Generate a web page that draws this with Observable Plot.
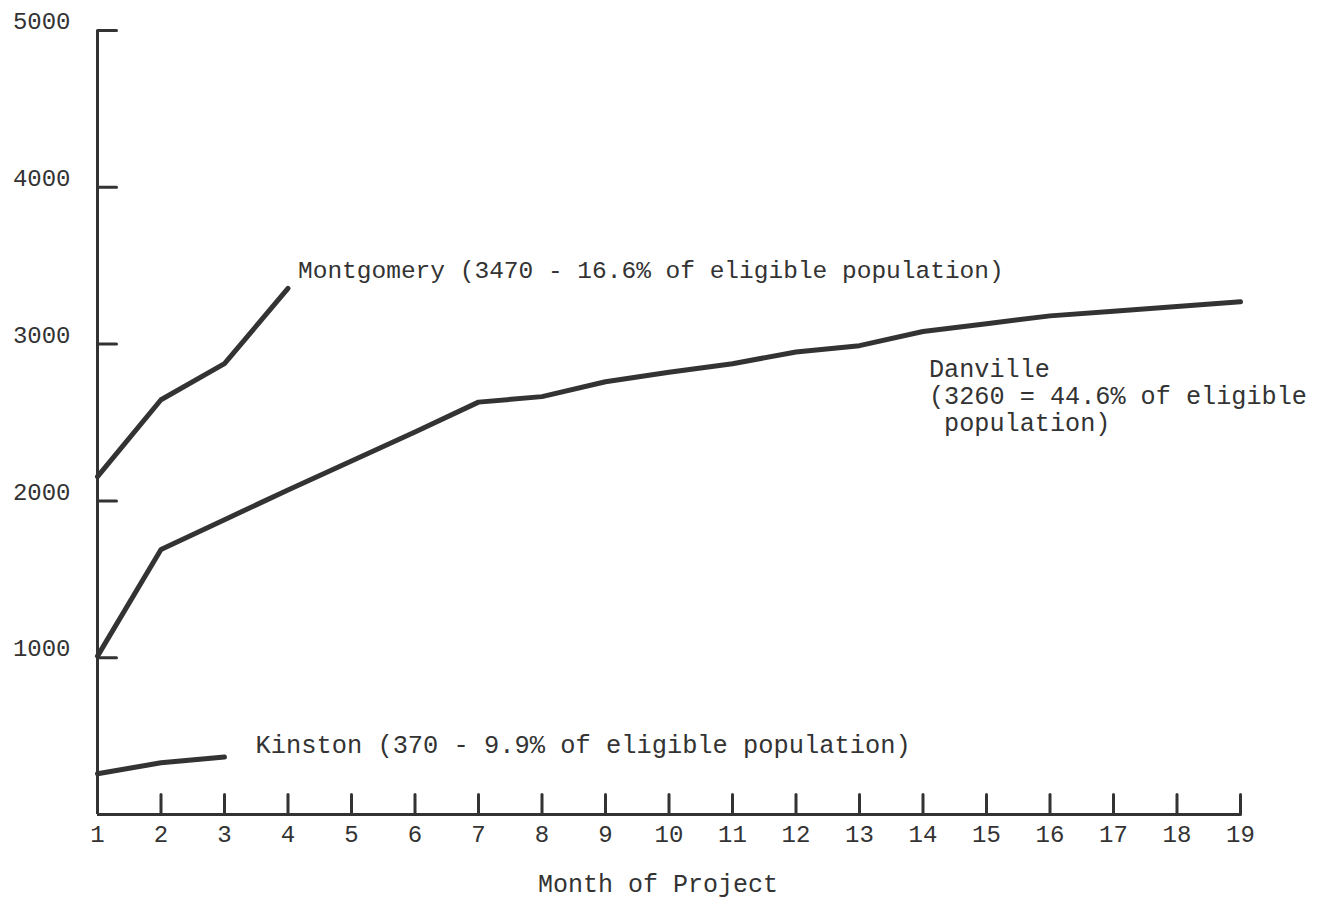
<!DOCTYPE html>
<html>
<head>
<meta charset="utf-8">
<script src="https://cdn.jsdelivr.net/npm/d3@7"></script>
<script src="https://cdn.jsdelivr.net/npm/@observablehq/plot@0.6"></script>
<style>
  html, body { margin: 0; padding: 0; background: #fff; }
</style>
</head>
<body>
<div id="chart"></div>
<script>
// ---- data ----
const months = [1,2,3,4,5,6,7,8,9,10,11,12,13,14,15,16,17,18,19];
const yTicks = [1000, 2000, 3000, 4000, 5000];
const danville = [1010, 1690, 1880, 2070, 2255, 2440, 2630, 2665, 2760, 2820, 2875, 2950, 2990, 3080, 3130, 3180, 3210, 3240, 3270];
const montgomery = [2155, 2645, 2875, 3355];
const kinston = [260, 330, 366];
const xLabel = "Month of Project";
const labelMontgomery = "Montgomery (3470 - 16.6% of eligible population)";
const labelDanville = "Danville\n(3260 = 44.6% of eligible\n\u00a0population)";
const labelKinston = "Kinston (370 - 9.9% of eligible population)";

// ---- table built from arrays ----
const series = [
  {city: "Montgomery", values: montgomery},
  {city: "Danville", values: danville},
  {city: "Kinston", values: kinston}
];
const rows = series.flatMap(s => s.values.map((v, i) => ({city: s.city, month: months[i], value: v})));
const last = (city) => rows.filter(r => r.city === city).at(-1);
const danvilleAt14 = rows.find(r => r.city === "Danville" && r.month === 14);

const ink = "#333";
const tickShape = {draw(context, l) { context.moveTo(0, 0); context.lineTo(0, -l); }};
const chart = Plot.plot({
  width: 1324,
  height: 901,
  marginLeft: 97,
  marginRight: 84,
  marginTop: 30,
  marginBottom: 87,
  x: {domain: [1, 19], axis: null},
  y: {domain: [0, 5000], axis: null},
  style: {fontFamily: "'Liberation Mono', 'DejaVu Sans Mono', monospace", color: ink, background: "#fff"},
  marks: [
    // axes lines
    Plot.ruleX([months[0]], {y1: 0, y2: yTicks.at(-1), stroke: ink, strokeWidth: 3}),
    Plot.ruleY([0], {x1: months[0], x2: months.at(-1), stroke: ink, strokeWidth: 3}),
    // inward ticks
    Plot.vector(yTicks, {x: months[0], y: d => d, length: 19, rotate: 90, anchor: "start", shape: tickShape, stroke: ink, strokeWidth: 3}),
    Plot.vector(months.slice(1), {x: d => d, y: 0, length: 20, rotate: 0, anchor: "start", shape: tickShape, stroke: ink, strokeWidth: 3}),
    // tick labels
    Plot.text(yTicks, {x: months[0], y: d => d, text: d => String(d), textAnchor: "end", dx: -27, dy: -9, fontSize: 24, fill: ink}),
    Plot.text(months, {x: d => d, y: 0, text: d => String(d), dy: 20, fontSize: 24, fill: ink}),
    Plot.text([xLabel], {frameAnchor: "bottom", dx: -11, dy: 77, fontSize: 25, fill: ink}),
    // lines
    Plot.line(rows, {x: "month", y: "value", z: "city", stroke: ink, strokeWidth: 5, strokeLinecap: "round", strokeLinejoin: "round"}),
    // series labels
    Plot.text([last("Montgomery")], {x: "month", y: "value", text: () => labelMontgomery, textAnchor: "start", dx: 10, dy: -18, fontSize: 24.5, fill: ink}),
    Plot.text([danvilleAt14], {x: "month", y: "value", text: () => labelDanville, textAnchor: "start", dx: 6, dy: 64, lineHeight: 1.06, fontSize: 25.2, fill: ink}),
    Plot.text([last("Kinston")], {x: "month", y: "value", text: () => labelKinston, textAnchor: "start", dx: 31, dy: -12, fontSize: 25.4, fill: ink})
  ]
});
document.getElementById("chart").appendChild(chart);
</script>
</body>
</html>
